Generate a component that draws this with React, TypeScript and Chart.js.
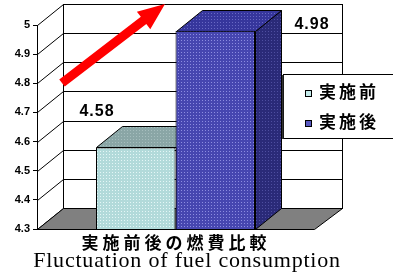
import { useEffect, useRef } from 'react';
import { Chart, registerables } from 'chart.js';

Chart.register(...registerables);

// ---- data ----
const categories = ['実施前後'];
const seriesNames = ['実施前', '実施後'];
const beforeValues = [4.58];
const afterValues = [4.98];
const valueLabels = ['4.58', '4.98'];
const yMin = 4.3;
const yMax = 5;
const yStep = 0.1;
const titleJa = '実施前後の燃費比較';
const titleEn = 'Fluctuation of fuel consumption';

// ---- layout / style constants ----
const W = 393;
const H = 276;
const DX = 26;
const DY = 21;

function makePattern(ctx: CanvasRenderingContext2D, base: string, dot: string) {
  const c = document.createElement('canvas');
  c.width = 3;
  c.height = 3;
  const g = c.getContext('2d')!;
  g.fillStyle = base;
  g.fillRect(0, 0, 3, 3);
  g.fillStyle = dot;
  g.fillRect(1, 1, 1, 1);
  return ctx.createPattern(c, 'repeat')!;
}

export default function App() {
  const ref = useRef<HTMLCanvasElement | null>(null);

  useEffect(() => {
    const canvas = ref.current!;
    const ctx = canvas.getContext('2d')!;

    const faces = [
      {
        front: makePattern(ctx, '#b2dada', '#e4f6f6'),
        top: makePattern(ctx, '#8aa6a6', '#a6bebe'),
        side: makePattern(ctx, '#6a8c8c', '#86a4a4'),
        legend: '#c4eaea',
      },
      {
        front: makePattern(ctx, '#4646b0', '#8c8ce0'),
        top: makePattern(ctx, '#36369c', '#6868c4'),
        side: makePattern(ctx, '#2a2a78', '#4e4ea0'),
        legend: '#5858c0',
      },
    ];

    const line = (x1: number, y1: number, x2: number, y2: number) => {
      ctx.beginPath();
      ctx.moveTo(x1, y1);
      ctx.lineTo(x2, y2);
      ctx.stroke();
    };

    const poly = (pts: number[][], fill: any) => {
      ctx.beginPath();
      ctx.moveTo(pts[0][0], pts[0][1]);
      for (let i = 1; i < pts.length; i++) ctx.lineTo(pts[i][0], pts[i][1]);
      ctx.closePath();
      ctx.fillStyle = fill;
      ctx.fill();
      ctx.stroke();
    };

    const threeD = {
      id: 'threeD',
      beforeDatasetsDraw(chart: any) {
        const a = chart.chartArea;
        const ys = chart.scales.y;
        const L = Math.round(a.left) + 0.5;
        const R = Math.round(a.right) + 0.5;
        const T = Math.round(a.top) + 0.5;
        const B = Math.round(a.bottom) + 0.5;
        ctx.save();
        ctx.strokeStyle = '#000';
        ctx.lineWidth = 1;
        // back wall
        ctx.fillStyle = '#fff';
        ctx.fillRect(L + DX, T - DY, R - L + 2, B - T);
        ctx.strokeRect(L + DX, T - DY, R - L + 2, B - T);
        // grid lines on back wall + side wall diagonals
        ys.ticks.forEach((t: any) => {
          const py = Math.round(ys.getPixelForValue(t.value)) + 0.5;
          line(L + DX, py - DY, R + DX + 2, py - DY);
          line(L, py, L + DX, py - DY);
        });
        // floor
        poly(
          [
            [L, B],
            [L + DX, B - DY],
            [R + DX + 2, B - DY],
            [R, B],
          ],
          '#808080'
        );
        // bar tops / sides
        chart.data.datasets.forEach((ds: any, i: number) => {
          const meta = chart.getDatasetMeta(i);
          meta.data.forEach((el: any) => {
            const p = el.getProps(['x', 'y', 'base', 'width'], true);
            const l = Math.round(p.x - p.width / 2) + 0.5;
            const r = Math.round(p.x + p.width / 2) + 0.5;
            const top = Math.round(p.y) + 0.5;
            const base = Math.round(Math.min(p.base, a.bottom)) + 0.5;
            poly(
              [
                [r, top],
                [r + DX, top - DY],
                [r + DX, base - DY],
                [r, base],
              ],
              faces[i].side
            );
            poly(
              [
                [l, top],
                [l + DX, top - DY],
                [r + DX, top - DY],
                [r, top],
              ],
              faces[i].top
            );
          });
        });
        ctx.restore();
      },
      afterDatasetsDraw(chart: any) {
        const a = chart.chartArea;
        ctx.save();
        // red arrow
        const tx = a.left + 25, ty = a.top + 58;
        const px = a.left + 128, py = a.top - 21;
        const len = Math.hypot(px - tx, py - ty);
        const ux = (px - tx) / len, uy = (py - ty) / len;
        const nx = -uy, ny = ux;
        const hw = 4.5, hh = 11, hl = 27;
        const hx = px - ux * hl, hy = py - uy * hl;
        ctx.beginPath();
        ctx.moveTo(tx + nx * hw, ty + ny * hw);
        ctx.lineTo(hx + nx * hw, hy + ny * hw);
        ctx.lineTo(hx + nx * hh, hy + ny * hh);
        ctx.lineTo(px, py);
        ctx.lineTo(hx - nx * hh, hy - ny * hh);
        ctx.lineTo(hx - nx * hw, hy - ny * hw);
        ctx.lineTo(tx - nx * hw, ty - ny * hw);
        ctx.closePath();
        ctx.fillStyle = '#ff0000';
        ctx.fill();

        // value labels
        const offs = [
          { side: -1, dx: 1, dy: -36 },
          { side: 1, dx: 57, dy: -6 },
        ];
        ctx.fillStyle = '#000';
        ctx.textAlign = 'center';
        ctx.textBaseline = 'middle';
        ctx.font = 'bold 16px "Liberation Sans", Arial, sans-serif';
        (ctx as any).letterSpacing = '1px';
        chart.data.datasets.forEach((ds: any, i: number) => {
          const el = chart.getDatasetMeta(i).data[0];
          const p = el.getProps(['x', 'y', 'width'], true);
          const ex = p.x + (offs[i].side * p.width) / 2;
          ctx.fillText(valueLabels[i], ex + offs[i].dx, p.y + offs[i].dy);
        });

        // legend
        ctx.strokeStyle = '#000';
        ctx.lineWidth = 1;
        ctx.fillStyle = '#fff';
        ctx.fillRect(283.5, 74.5, 112, 64);
        ctx.strokeRect(283.5, 74.5, 112, 64);
        ctx.fillStyle = '#333';
        ctx.fillRect(282, 75, 1.5, 64);
        ctx.textAlign = 'left';
        ctx.font = 'bold 17px "Noto Sans CJK JP", sans-serif';
        (ctx as any).letterSpacing = '3px';
        const ly = [93.5, 123.5];
        seriesNames.forEach((name, i) => {
          ctx.fillStyle = faces[i].legend;
          ctx.fillRect(305, ly[i] - 3.5, 7, 7);
          ctx.strokeStyle = '#000';
          ctx.strokeRect(305.5, ly[i] - 3, 6, 6);
          ctx.fillStyle = '#000';
          ctx.fillText(name, 319, ly[i] - 2);
        });
        ctx.restore();
      },
      afterDraw(chart: any) {
        ctx.save();
        ctx.fillStyle = '#000';
        ctx.textAlign = 'center';
        ctx.textBaseline = 'middle';
        ctx.font = 'bold 17px "Noto Sans CJK JP", sans-serif';
        (ctx as any).letterSpacing = '4px';
        ctx.fillText(titleJa, 176, 243);
        (ctx as any).letterSpacing = '0.8px';
        ctx.font = '22px "Liberation Serif", "Times New Roman", serif';
        ctx.textBaseline = 'alphabetic';
        ctx.fillText(titleEn, 187, 267);
        ctx.restore();
      },
    };

    const chart = new Chart(canvas, {
      type: 'bar',
      data: {
        labels: categories,
        datasets: [
          {
            label: seriesNames[0],
            data: beforeValues,
            backgroundColor: faces[0].front,
            borderColor: '#000',
            borderWidth: 1,
          },
          {
            label: seriesNames[1],
            data: afterValues,
            backgroundColor: faces[1].front,
            borderColor: '#000',
            borderWidth: 1,
          },
        ],
      },
      options: {
        responsive: false,
        animation: false,
        devicePixelRatio: 1,
        layout: { padding: { left: 0, right: 79, top: 25, bottom: 47 } },
        datasets: { bar: { categoryPercentage: 0.574, barPercentage: 1 } },
        plugins: { legend: { display: false }, tooltip: { enabled: false }, title: { display: false } },
        scales: {
          x: { display: false },
          y: {
            min: yMin,
            max: yMax,
            afterFit: (s: any) => {
              s.width = 37;
            },
            ticks: {
              stepSize: yStep,
              padding: 3,
              color: '#000',
              font: { family: '"Liberation Sans", Arial, sans-serif', size: 11, weight: 'bold' },
              callback: (v: any) => {
                const n = Math.round(Number(v) * 10) / 10;
                return n === 5 ? '5' : n.toFixed(1);
              },
            },
            grid: { drawOnChartArea: false, drawTicks: true, tickLength: 4, color: '#000' },
            border: { display: true, color: '#000', width: 1 },
          },
        },
      },
      plugins: [threeD],
    } as any);

    return () => chart.destroy();
  }, []);

  return (
    <canvas
      ref={ref}
      width={W}
      height={H}
      style={{ position: 'absolute', left: 0, top: 0, width: W, height: H }}
    />
  );
}
